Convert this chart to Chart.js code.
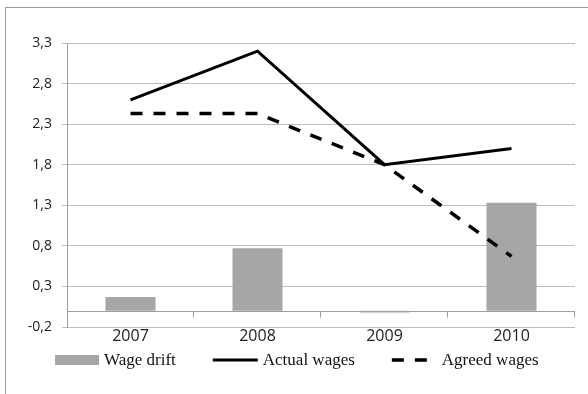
<!DOCTYPE html>
<html>
<head>
<meta charset="utf-8">
<script src="https://cdn.jsdelivr.net/npm/chart.js@4/dist/chart.umd.min.js"></script>
<style>
  html, body { margin: 0; padding: 0; background: #ffffff; }
  #wrap { position: relative; width: 588px; height: 394px; }
</style>
</head>
<body>
<div id="wrap"><canvas id="c" width="588" height="394"></canvas></div>
<script>
const categories = ['2007', '2008', '2009', '2010'];
const wageDrift = [0.17, 0.77, -0.02, 1.33];
const actualWages = [2.6, 3.2, 1.8, 2.0];
const agreedWages = [2.43, 2.43, 1.8, 0.67];
const yTicks = [-0.2, 0.3, 0.8, 1.3, 1.8, 2.3, 2.8, 3.3];
const seriesNames = ['Wage drift', 'Actual wages', 'Agreed wages'];

const BAR_COLOR = '#a6a6a6';
const GRID_COLOR = '#bdbdbd';
const AXIS_COLOR = '#9e9e9e';

const framePlugin = {
  id: 'frame',
  beforeDraw(chart) {
    const ctx = chart.ctx;
    ctx.save();
    ctx.fillStyle = '#ffffff';
    ctx.fillRect(0, 0, chart.width, chart.height);
    ctx.strokeStyle = '#9a9a9a';
    ctx.lineWidth = 1;
    ctx.strokeRect(5.5, 7.5, 700, 500);
    ctx.restore();
  }
};

const zeroLinePlugin = {
  id: 'zeroLine',
  beforeDatasetsDraw(chart) {
    const ctx = chart.ctx;
    const y = chart.scales.y;
    const x = chart.scales.x;
    const area = chart.chartArea;
    const y0 = Math.round(y.getPixelForValue(0)) + 0.5;
    ctx.save();
    ctx.strokeStyle = AXIS_COLOR;
    ctx.lineWidth = 1;
    ctx.beginPath();
    ctx.moveTo(area.left, y0);
    ctx.lineTo(area.right, y0);
    const n = categories.length;
    for (let i = 1; i <= n; i++) {
      const bx = Math.round(area.left + (area.right - area.left) * i / n) - 0.5;
      ctx.moveTo(bx, y0);
      ctx.lineTo(bx, y0 + 6);
    }
    ctx.stroke();
    ctx.restore();
  }
};

const legendPlugin = {
  id: 'customLegend',
  afterDraw(chart) {
    const ctx = chart.ctx;
    const ds = chart.data.datasets;
    const yc = 360;
    ctx.save();
    ctx.font = '17px "Liberation Serif", "Times New Roman", serif';
    ctx.textBaseline = 'middle';
    ctx.fillStyle = '#111111';
    let x = 55;
    const boxW = 44, lineW = 45, gapText = 5, gapItem = 37;
    // bar item
    ctx.fillStyle = ds[0].backgroundColor;
    ctx.fillRect(x, yc - 5, boxW, 10);
    x += boxW + gapText;
    ctx.fillStyle = '#111111';
    ctx.fillText(ds[0].label, x, yc + 1);
    x += ctx.measureText(ds[0].label).width + gapItem;
    // line items
    for (let i = 1; i < ds.length; i++) {
      ctx.strokeStyle = ds[i].borderColor;
      ctx.lineWidth = ds[i].borderWidth;
      ctx.setLineDash(ds[i].borderDash || []);
      ctx.beginPath();
      ctx.moveTo(x, yc);
      ctx.lineTo(x + lineW, yc);
      ctx.stroke();
      ctx.setLineDash([]);
      x += lineW + gapText;
      ctx.fillText(ds[i].label, x, yc + 1);
      x += ctx.measureText(ds[i].label).width + gapItem;
    }
    ctx.restore();
  }
};

new Chart(document.getElementById('c'), {
  data: {
    labels: categories,
    datasets: [
      {
        type: 'bar',
        label: seriesNames[0],
        data: wageDrift,
        backgroundColor: BAR_COLOR,
        borderWidth: 0,
        barPercentage: 0.394,
        categoryPercentage: 1.0,
        order: 3
      },
      {
        type: 'line',
        label: seriesNames[1],
        data: actualWages,
        borderColor: '#000000',
        backgroundColor: '#000000',
        borderWidth: 3,
        pointRadius: 0,
        tension: 0,
        fill: false,
        order: 1
      },
      {
        type: 'line',
        label: seriesNames[2],
        data: agreedWages,
        borderColor: '#000000',
        backgroundColor: '#000000',
        borderWidth: 3.5,
        borderDash: [12, 11],
        pointRadius: 0,
        tension: 0,
        fill: false,
        order: 2
      }
    ]
  },
  options: {
    responsive: false,
    animation: false,
    devicePixelRatio: 1,
    layout: { padding: { left: 0, right: 13, top: 43, bottom: 47 } },
    plugins: {
      legend: { display: false },
      title: { display: false },
      tooltip: { enabled: false }
    },
    scales: {
      x: {
        type: 'category',
        offset: true,
        grid: { display: false, drawTicks: false },
        border: { display: false },
        ticks: {
          padding: 0,
          color: '#222222',
          font: { family: '"Open Sans", sans-serif', size: 16 }
        },
        afterFit(scale) { scale.height = 20; }
      },
      y: {
        min: -0.2,
        max: 3.3,
        afterBuildTicks(scale) {
          scale.ticks = yTicks.map(v => ({ value: v }));
        },
        grid: { color: GRID_COLOR, lineWidth: 1, tickLength: 5, drawTicks: true },
        border: { display: true, color: AXIS_COLOR, width: 1 },
        ticks: {
          padding: 10,
          color: '#222222',
          font: { family: '"Open Sans", sans-serif', size: 14 },
          callback: (v) => Number(v).toFixed(1).replace('.', ',')
        },
        afterFit(scale) { scale.width = 67; }
      }
    }
  },
  plugins: [framePlugin, zeroLinePlugin, legendPlugin]
});
</script>
</body>
</html>
